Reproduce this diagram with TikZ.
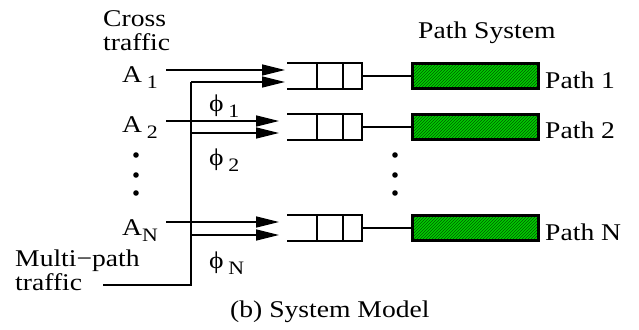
\documentclass[tikz,border=0pt]{standalone}
\usepackage{fontspec}
\setmainfont{Liberation Serif}
\usetikzlibrary{arrows.meta,patterns}
\definecolor{pathgreen}{RGB}{0,204,0}
\definecolor{hatchgreen}{RGB}{0,90,0}
\newcommand{\lowsub}[1]{\raisebox{-6pt}{\fontsize{19}{19}\selectfont #1}}
\tikzset{
  lbl/.style={inner sep=0pt, anchor=base west, xscale=1.15, font=\fontsize{24}{24}\selectfont},
  flow/.style={line width=1.4pt, -{Triangle[length=23pt,width=11pt]}},
  wire/.style={line width=1.4pt},
  pathbox/.style={draw, line width=2.6pt, minimum width=126pt, minimum height=25pt,
    inner sep=0pt, preaction={fill=pathgreen}, pattern=north east lines, pattern color=hatchgreen}
}

\begin{document}
\begin{tikzpicture}[x=1pt, y=-1pt]
        \useasboundingbox (0,0) rectangle (639,329);
        % labels on the left
        \node[lbl] (cross) at (103,27) {Cross};
        \node[lbl] (crosst) at (103,50) {traffic};
        \node[lbl] (a1) at (122,82) {A\,\lowsub{1}};
        \node[lbl] (a2) at (122,132) {A\,\lowsub{2}};
        \node[lbl] (an) at (122,235) {A\lowsub{N}};
        \node[lbl] (multi) at (15,266) {Multi−path};
        \node[lbl] (multit) at (15,290) {traffic};
        \node[lbl] (phi1) at (209,111) {ϕ\,\lowsub{1}};
        \node[lbl] (phi2) at (209,165) {ϕ\,\lowsub{2}};
        \node[lbl] (phin) at (209,268) {ϕ\,\lowsub{N}};
        \node[lbl] (title) at (418,39) {Path System};
        \node[lbl] (caption) at (230,317) {(b) System Model};
        % dots
        \fill (136,155) circle (2.8) (136,175) circle (2.8) (136,193) circle (2.8);
        \fill (395,155) circle (2.8) (395,175) circle (2.8) (395,193) circle (2.8);
        % queues
        \draw[wire] (287,63) -- (362,63) -- (362,89) -- (287,89) (317,63) -- (317,89) (343,63) -- (343,89);
        \draw[wire] (287,114) -- (362,114) -- (362,140) -- (287,140) (317,114) -- (317,140) (343,114) -- (343,140);
        \draw[wire] (287,215) -- (362,215) -- (362,241) -- (287,241) (317,215) -- (317,241) (343,215) -- (343,241);
        \coordinate (q1out) at (362,76);
        \coordinate (q2out) at (362,127);
        \coordinate (qnout) at (362,228);
        % paths
        \node[pathbox] (path1) at (475.5,76) {};
        \node[pathbox] (path2) at (475.5,127) {};
        \node[pathbox] (pathn) at (475.5,228) {};
        \node[lbl] (path1l) at (545,88) {Path 1};
        \node[lbl] (path2l) at (545,138) {Path 2};
        \node[lbl] (pathnl) at (545,240) {Path N};
        \draw[wire] (q1out) -- (path1.west);
        \draw[wire] (q2out) -- (path2.west);
        \draw[wire] (qnout) -- (pathn.west);
        % cross traffic
        \coordinate (a1s) at (166,70);
        \coordinate (a2s) at (166,121);
        \coordinate (ans) at (166,222);
        \coordinate (q1a) at (285,70);
        \coordinate (q2a) at (279,121);
        \coordinate (qna) at (279,222);
        \draw[flow] (a1s) -- (q1a);
        \draw[flow] (a2s) -- (q2a);
        \draw[flow] (ans) -- (qna);
        % multi-path traffic
        \coordinate (mps) at (103,285);
        \coordinate (split) at (191,285);
        \coordinate (q1b) at (285,82);
        \coordinate (q2b) at (279,133);
        \coordinate (qnb) at (279,235);
        \draw[wire] (mps) -- (split) -- (split |- q1b);
        \draw[flow] (split |- q1b) -- (q1b);
        \draw[flow] (split |- q2b) -- (q2b);
        \draw[flow] (split |- qnb) -- (qnb);
\end{tikzpicture}
\end{document}
